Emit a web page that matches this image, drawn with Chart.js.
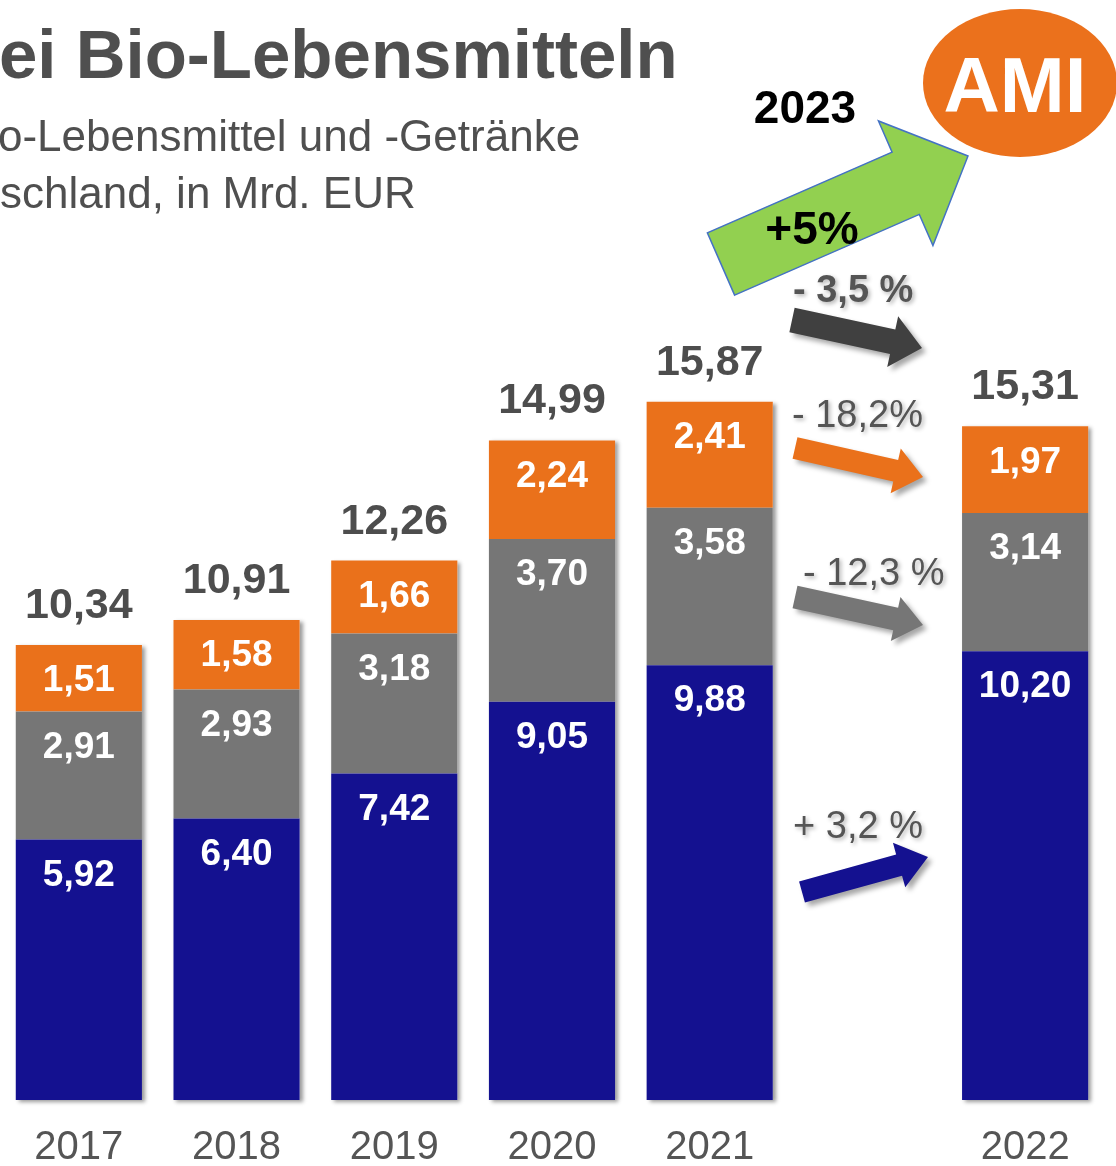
<!DOCTYPE html>
<html>
<head>
<meta charset="utf-8">
<script src="https://cdn.jsdelivr.net/npm/chart.js@4.4.1/dist/chart.umd.min.js"></script>
<style>
  body { margin: 0; background: #fff; }
  #wrap { width: 1116px; height: 1166px; position: relative; }
</style>
</head>
<body>
<div id="wrap"><canvas id="umsatz-chart"></canvas></div>
<script>
// Umsatz Bio-Lebensmittel, Mrd. EUR (leere Kategorie = Lücke vor 2022)
const jahre = ['2017', '2018', '2019', '2020', '2021', '', '2022']
const blauWerte = [5.92, 6.40, 7.42, 9.05, 9.88, null, 10.20]
const grauWerte = [2.91, 2.93, 3.18, 3.70, 3.58, null, 3.14]
const orangeWerte = [1.51, 1.58, 1.66, 2.24, 2.41, null, 1.97]
const summen = [10.34, 10.91, 12.26, 14.99, 15.87, null, 15.31]
const veraenderungen = ['- 3,5 %', '- 18,2%', '- 12,3 %', '+ 3,2 %']

const FONT = '"Liberation Sans", Arial, sans-serif'
const BLAU = '#141190'
const GRAU = '#767676'
const ORANGE = '#EA711B'

const fmt = v => v.toFixed(2).replace('.', ',')

function pfeil(ctx, x1, y1, x2, y2, sw, hw, hl) {
  const dx = x2 - x1, dy = y2 - y1, len = Math.hypot(dx, dy)
  const ux = dx / len, uy = dy / len, px = -uy, py = ux
  const bx = x2 - ux * hl, by = y2 - uy * hl
  ctx.beginPath()
  ctx.moveTo(x1 + px * sw / 2, y1 + py * sw / 2)
  ctx.lineTo(bx + px * sw / 2, by + py * sw / 2)
  ctx.lineTo(bx + px * hw / 2, by + py * hw / 2)
  ctx.lineTo(x2, y2)
  ctx.lineTo(bx - px * hw / 2, by - py * hw / 2)
  ctx.lineTo(bx - px * sw / 2, by - py * sw / 2)
  ctx.lineTo(x1 - px * sw / 2, y1 - py * sw / 2)
  ctx.closePath()
}

const schatten = (ctx, on) => {
  ctx.shadowColor = on ? 'rgba(0,0,0,0.35)' : 'transparent'
  ctx.shadowBlur = on ? 5 : 0
  ctx.shadowOffsetX = on ? 4 : 0
  ctx.shadowOffsetY = on ? 4 : 0
}

const beschriftung = {
  id: 'beschriftung',
  beforeDatasetsDraw(chart) {
    const ctx = chart.ctx, y = chart.scales.y
    const meta = chart.getDatasetMeta(0)
    ctx.save()
    ctx.shadowColor = 'rgba(0,0,0,0.4)'
    ctx.shadowBlur = 4
    ctx.shadowOffsetX = 3
    ctx.shadowOffsetY = 2
    ctx.fillStyle = '#fff'
    summen.forEach((s, i) => {
      if (s == null) return
      const el = meta.data[i]
      const top = y.getPixelForValue(s), bottom = y.getPixelForValue(0)
      ctx.fillRect(el.x - el.width / 2, top, el.width, bottom - top)
    })
    ctx.restore()
  },
  afterDatasetsDraw(chart) {
    const ctx = chart.ctx
    ctx.save()
    ctx.textAlign = 'center'
    ctx.textBaseline = 'middle'
    ctx.fillStyle = '#fff'
    ctx.font = 'bold 37px ' + FONT
    chart.data.datasets.forEach((ds, d) => {
      const meta = chart.getDatasetMeta(d)
      ds.data.forEach((v, i) => {
        if (v == null) return
        const el = meta.data[i]
        ctx.fillText(fmt(v), el.x, el.y + 36)
      })
    })
    const top = chart.getDatasetMeta(2)
    ctx.textBaseline = 'alphabetic'
    ctx.fillStyle = '#4D4D4D'
    ctx.font = 'bold 43px ' + FONT
    summen.forEach((s, i) => {
      if (s == null) return
      const el = top.data[i]
      ctx.fillText(fmt(s), el.x, el.y - 27)
    })
    ctx.restore()
  },
  afterDraw(chart) {
    const ctx = chart.ctx
    ctx.save()
    // Titel (links angeschnitten)
    ctx.fillStyle = '#4F4F4F'
    ctx.textAlign = 'left'
    ctx.font = 'bold 69px ' + FONT
    ctx.fillText('ei Bio-Lebensmitteln', -1, 78)
    ctx.font = '44px ' + FONT
    ctx.fillText('o-Lebensmittel und -Getränke', -2, 151)
    ctx.fillText('schland, in Mrd. EUR', 0, 208)

    // AMI Logo
    ctx.fillStyle = '#EB711C'
    ctx.beginPath()
    ctx.ellipse(1020, 83, 97, 74, 0, 0, Math.PI * 2)
    ctx.fill()
    ctx.fillStyle = '#fff'
    ctx.textAlign = 'center'
    ctx.font = 'bold 78px ' + FONT
    ctx.fillText('AMI', 1015, 112)

    // 2023 Prognose
    pfeil(ctx, 721, 264, 968, 156, 68, 136, 68)
    ctx.fillStyle = '#92D050'
    ctx.fill()
    ctx.strokeStyle = '#4472C4'
    ctx.lineWidth = 1.5
    ctx.stroke()
    ctx.fillStyle = '#000'
    ctx.font = 'bold 46px ' + FONT
    ctx.fillText('2023', 805, 123)
    ctx.fillText('+5%', 812, 244)

    // Veränderungspfeile 2021 -> 2022
    schatten(ctx, true)
    pfeil(ctx, 792, 320, 922, 348, 25, 52, 30)
    ctx.fillStyle = '#404040'
    ctx.fill()
    pfeil(ctx, 795, 448, 923, 477, 22, 46, 28)
    ctx.fillStyle = ORANGE
    ctx.fill()
    pfeil(ctx, 795, 597, 923, 625, 23, 45, 28)
    ctx.fillStyle = GRAU
    ctx.fill()
    pfeil(ctx, 802, 892, 928, 857, 22, 46, 30)
    ctx.fillStyle = BLAU
    ctx.fill()

    ctx.shadowColor = 'rgba(0,0,0,0.3)'
    ctx.shadowBlur = 4
    ctx.shadowOffsetX = 2
    ctx.shadowOffsetY = 2
    ctx.textAlign = 'left'
    ctx.fillStyle = '#555'
    ctx.font = 'bold 38px ' + FONT
    ctx.fillText(veraenderungen[0], 793, 302)
    ctx.font = '38px ' + FONT
    ctx.fillText(veraenderungen[1], 792, 427)
    ctx.fillText(veraenderungen[2], 803, 585)
    ctx.fillText(veraenderungen[3], 793, 838)
    ctx.restore()
  }
}

const ctx = document.getElementById('umsatz-chart').getContext('2d')
const chart = new Chart(ctx, {
  type: 'bar',
  data: {
    labels: jahre,
    datasets: [
      { label: 'blau', data: blauWerte, backgroundColor: BLAU },
      { label: 'grau', data: grauWerte, backgroundColor: GRAU },
      { label: 'orange', data: orangeWerte, backgroundColor: ORANGE }
    ]
  },
  options: {
    responsive: true,
    maintainAspectRatio: false,
    animation: false,
    events: [],
    layout: { padding: { top: 0, left: 0, right: 12, bottom: -30 } },
    datasets: { bar: { categoryPercentage: 1, barPercentage: 0.8 } },
    plugins: { legend: { display: false }, tooltip: { enabled: false } },
    scales: {
      x: {
        stacked: true,
        grid: { display: false, drawTicks: false },
        border: { display: false },
        ticks: { color: '#555', padding: 30, font: { family: FONT, size: 40, lineHeight: 0.9 } }
      },
      y: { stacked: true, display: false, min: 0, max: 25 }
    }
  },
  plugins: [beschriftung]
})
</script>
</body>
</html>
